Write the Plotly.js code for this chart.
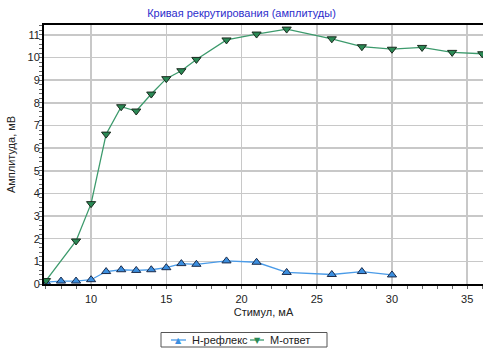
<!DOCTYPE html>
<html><head><meta charset="utf-8">
<script src="https://cdn.plot.ly/plotly-3.0.1.min.js"></script>
<style>html,body{margin:0;padding:0;background:#fff}#chart{width:483px;height:348px}</style>
</head><body><div id="chart"></div>
<script>
const titleText = "Кривая рекрутирования (амплитуды)";
const xTitle = "Стимул, мА";
const yTitle = "Амплитуда, мВ";
const hName = "H-рефлекс";
const mName = "M-ответ";
const hX = [7, 8, 9, 10, 11, 12, 13, 14, 15, 16, 17, 19, 21, 23, 26, 28, 30];
const hY = [0.08, 0.13, 0.13, 0.19, 0.55, 0.63, 0.6, 0.63, 0.72, 0.9, 0.87, 1.02, 0.96, 0.51, 0.42, 0.55, 0.4];
const mX = [7, 9, 10, 11, 12, 13, 14, 15, 16, 17, 19, 21, 23, 26, 28, 30, 32, 34, 36];
const mY = [0.15, 1.9, 3.55, 6.62, 7.83, 7.64, 8.39, 9.07, 9.42, 9.92, 10.78, 11.04, 11.26, 10.83, 10.48, 10.37, 10.45, 10.23, 10.17];
const xTicks = [10, 15, 20, 25, 30, 35];
const yTicks = [0, 1, 2, 3, 4, 5, 6, 7, 8, 9, 10, 11];

const hLine = "#4a9be8", hFill = "#3b8fe0";
const mLine = "#3c9a6c", mFill = "#2a8a55";
const font = {family: "Liberation Sans, Arial, sans-serif", size: 11, color: "#222"};
const traces = [
  {x: hX, y: hY, name: hName, type: "scatter", mode: "lines+markers", showlegend: false,
   line: {color: hLine, width: 1.3},
   marker: {symbol: "triangle-up", size: 8, color: hFill, line: {color: "#1b2b4a", width: 1}}},
  {x: mX, y: mY, name: mName, type: "scatter", mode: "lines+markers", showlegend: false,
   line: {color: mLine, width: 1.3},
   marker: {symbol: "triangle-down", size: 8, color: mFill, line: {color: "#1a2a1e", width: 1}}}
];
// plot area in px: x 44..483, y 25..284
const px = v => (v - 44) / 439;
const py = v => (284 - v) / 259;
const legY = 340;
const layout = {
  width: 483, height: 348,
  margin: {l: 44, r: 0, t: 25, b: 64},
  paper_bgcolor: "#fff", plot_bgcolor: "#fff",
  font: font,
  showlegend: false,
  title: {text: titleText, font: {family: font.family, size: 11, color: "#2d2dcc"},
          x: 0.5, xref: "container", y: 1 - 13/348, yref: "container", yanchor: "middle"},
  xaxis: {range: [6.87, 36.05], tickvals: xTicks, ticktext: xTicks.map(String),
          showgrid: true, gridcolor: "#c8c8c8", gridwidth: 1.5, zeroline: false,
          showline: true, linecolor: "#000", linewidth: 2, mirror: true,
          ticks: "", tickfont: font, ticklabelstandoff: 4,
          minor: {ticks: "outside", dtick: 1, ticklen: 3, tickcolor: "#666", showgrid: false},
          title: {text: xTitle, font: font, standoff: 4}},
  yaxis: {range: [0, 11.44], tickvals: yTicks, ticktext: yTicks.map(String),
          showgrid: true, gridcolor: "#c8c8c8", gridwidth: 1.5, zeroline: false,
          showline: true, linecolor: "#000", linewidth: 2,
          ticks: "", tickfont: font,
          minor: {ticks: "outside", dtick: 0.2, ticklen: 3, tickcolor: "#666", showgrid: false},
          title: {text: yTitle, font: font, standoff: 10}},
  shapes: [
    {type: "rect", xref: "paper", yref: "paper", x0: px(161), x1: px(327), y0: py(332.5), y1: py(347),
     line: {color: "#555", width: 1}, fillcolor: "rgba(0,0,0,0)"},
    {type: "line", xref: "paper", yref: "paper", x0: px(171), x1: px(186), y0: py(legY), y1: py(legY),
     line: {color: hLine, width: 1.3}},
    {type: "line", xref: "paper", yref: "paper", x0: px(250), x1: px(264), y0: py(legY), y1: py(legY),
     line: {color: mLine, width: 1.3}}
  ],
  annotations: [
    {xref: "paper", yref: "paper", x: px(178.5), y: py(legY), text: "▲", showarrow: false,
     font: {family: "DejaVu Sans", size: 8, color: hFill}, xanchor: "center", yanchor: "middle"},
    {xref: "paper", yref: "paper", x: px(190), y: py(legY), text: hName, showarrow: false,
     font: font, xanchor: "left", yanchor: "middle"},
    {xref: "paper", yref: "paper", x: px(257), y: py(legY), text: "▼", showarrow: false,
     font: {family: "DejaVu Sans", size: 8, color: mFill}, xanchor: "center", yanchor: "middle"},
    {xref: "paper", yref: "paper", x: px(268), y: py(legY), text: mName, showarrow: false,
     font: font, xanchor: "left", yanchor: "middle"}
  ]
};
Plotly.newPlot("chart", traces, layout, {displayModeBar: false, staticPlot: true});
</script></body></html>
